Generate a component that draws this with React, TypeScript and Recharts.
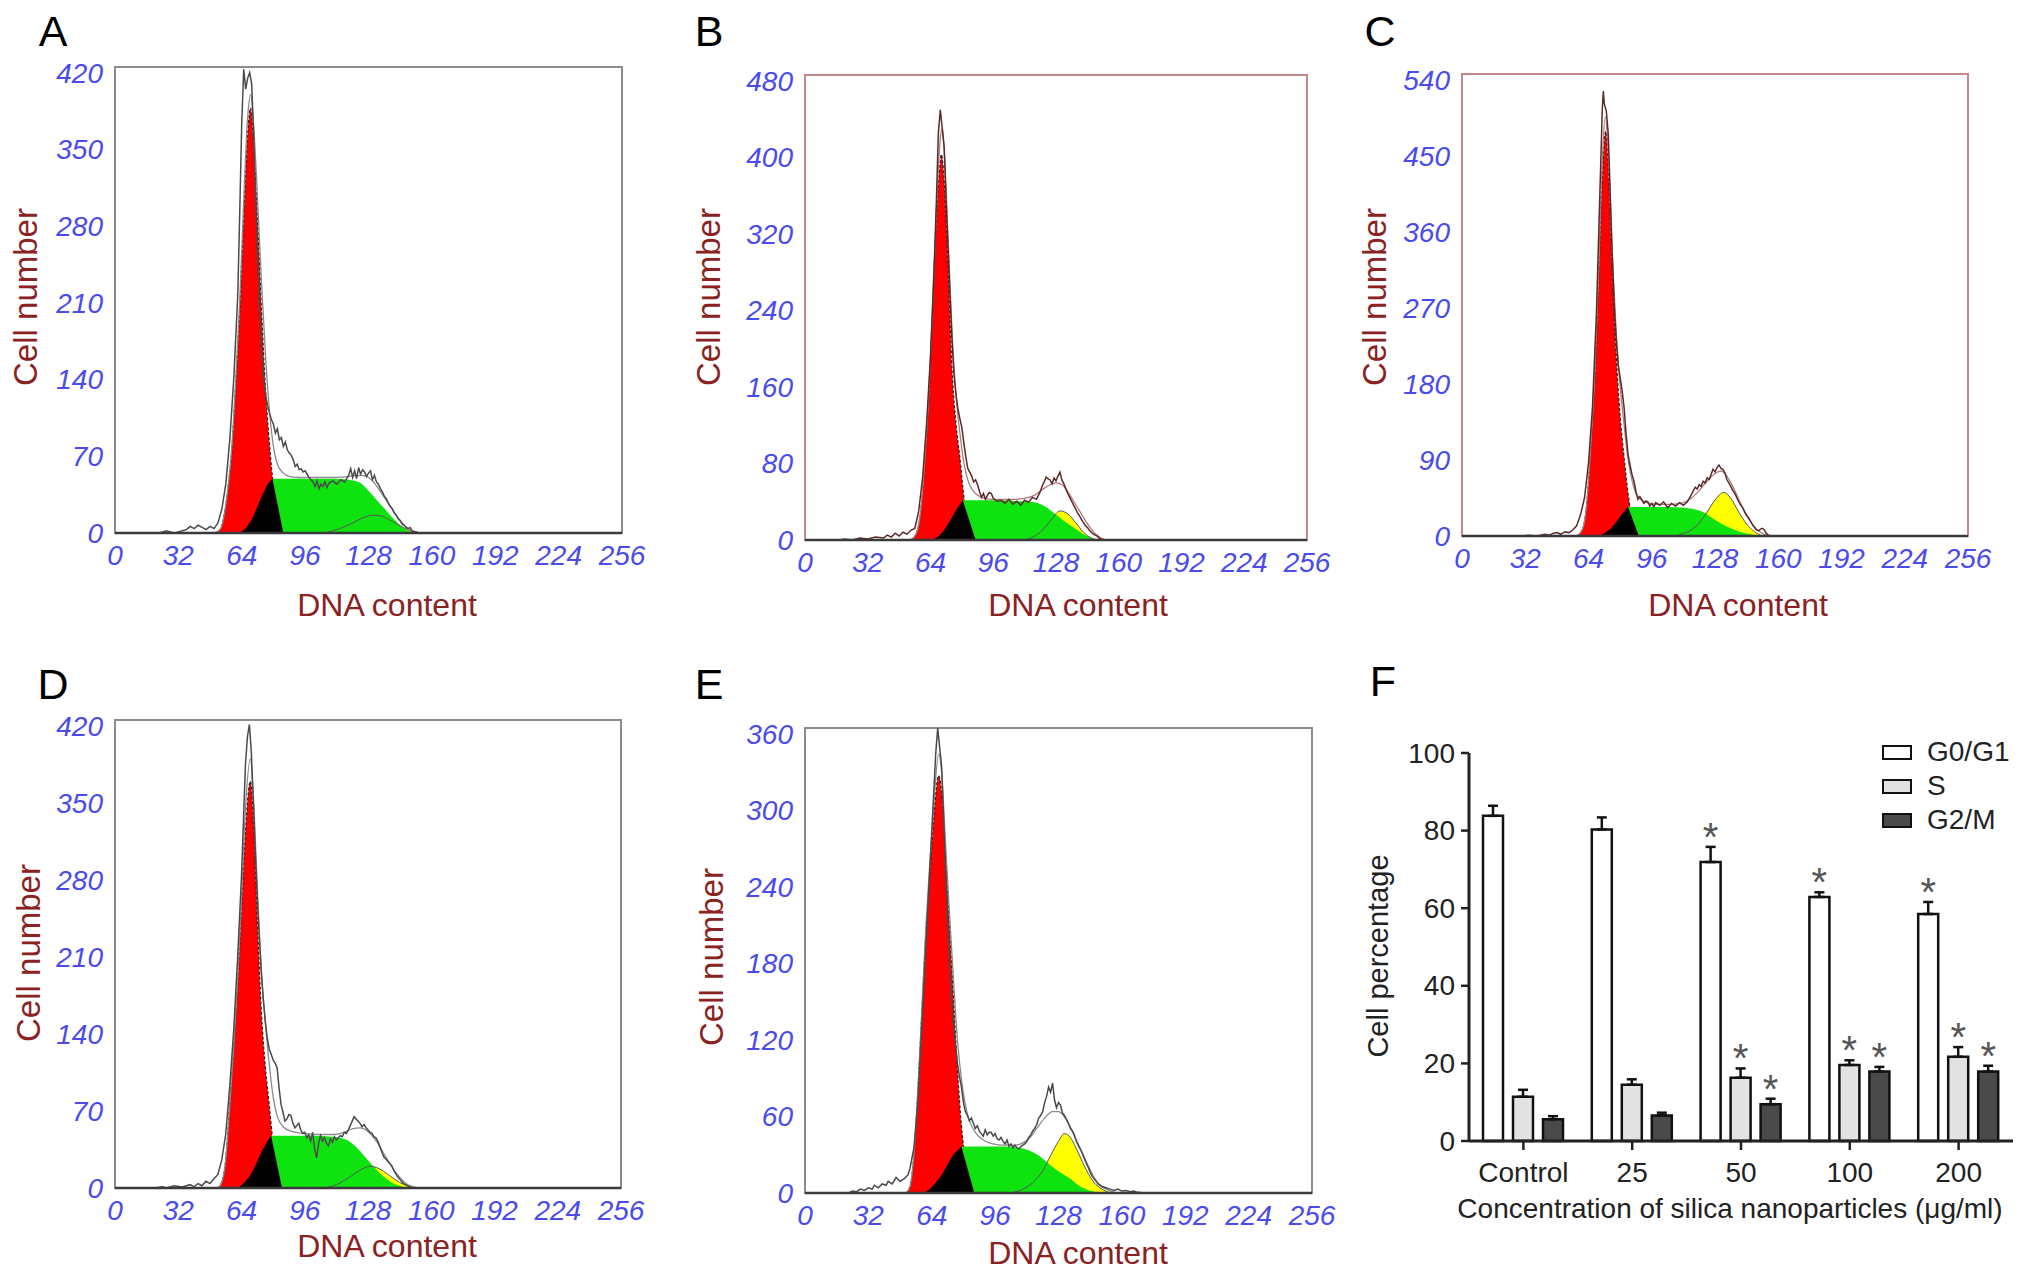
import React from 'react';
import {
  ComposedChart,
  Area,
  Line,
  XAxis,
  YAxis,
  ReferenceArea,
  BarChart,
  Bar,
  ErrorBar,
  LabelList,
} from 'recharts';

type Pt = [number, number];

// ---- shared ticks ----
const X_TICKS = [0, 32, 64, 96, 128, 160, 192, 224, 256];
const A_Y_TICKS = [0, 70, 140, 210, 280, 350, 420];
const B_Y_TICKS = [0, 80, 160, 240, 320, 400, 480];
const C_Y_TICKS = [0, 90, 180, 270, 360, 450, 540];
const D_Y_TICKS = [0, 70, 140, 210, 280, 350, 420];
const E_Y_TICKS = [0, 60, 120, 180, 240, 300, 360];

// ---- panel A ----
const A_RAW: Pt[] = [[0,0],[22,0],[24,1],[26,2],[28,1],[30,0],[32,1],[34,2],[36,3],[38,6],[40,4],[42,7],[44,5],[46,3],[48,6],[50,4],[52,9],[54,22],[56,45],[58,85],[60,140],[62,215],[63,290],[64,370],[65,418],[66,400],[67,410],[68,415],[69,405],[70,360],[71,300],[72,250],[73,200],[74,165],[75,140],[76,125],[77,115],[78,108],[79,102],[80,98],[81,90],[82,94],[83,84],[84,86],[85,78],[86,82],[87,75],[88,72],[89,70],[90,66],[91,60],[92,62],[93,57],[94,58],[95,55],[96,56],[98,50],[100,46],[101,42],[102,47],[103,40],[104,44],[105,42],[106,46],[107,41],[108,45],[110,47],[112,44],[114,48],[116,46],[118,52],[119,58],[120,50],[121,56],[122,49],[123,59],[124,53],[125,57],[126,55],[127,51],[128,54],[129,56],[130,48],[131,52],[132,46],[133,44],[134,40],[135,37],[136,33],[137,31],[138,27],[139,24],[140,22],[141,18],[142,16],[143,13],[144,11],[145,8],[146,7],[147,5],[148,4],[149,5],[150,2],[152,1],[154,0],[256,0]];
const A_FIT: Pt[] = [[50,0],[53,3],[55,15],[57,40],[59,78],[61,140],[63,210],[65,300],[67,375],[68.5,395],[70,368],[72,300],[74,225],[76,160],[78,110],[80,78],[82,62],[85,54],[88,51],[92,50],[100,50],[110,50],[118,51],[124,52],[127,51],[130,47],[133,40],[136,32],[139,24],[142,16],[145,9],[148,4],[151,1],[154,0]];
const A_G1: Pt[] = [[50,0],[53,3],[55,15],[57,40],[59,75],[61,135],[63,200],[65,285],[67,360],[68.5,383],[70,350],[72,280],[74,200],[76,130],[78,80],[80,42],[82,18],[84,6],[86,0]];
const A_BLACK: Pt[] = [[63,0],[66,4],[69,12],[71,20],[74,33],[77,44],[79.5,49],[85,0]];
const A_S: Pt[] = [[79.5,49],[90,49],[100,49],[110,49],[118,48],[124,45],[128,38],[132,30],[136,22],[140,14],[144,7],[148,2],[151,0]];
const A_G2: Pt[] = [[106,0],[110,2],[115,5],[120,9],[125,13.5],[130,16],[134,15.5],[138,12.5],[142,8.5],[146,4.5],[150,1.5],[154,0]];

// ---- panel B ----
const B_RAW: Pt[] = [[0,0],[18,0],[20,1],[24,0],[28,2],[32,1],[36,3],[40,2],[42,5],[44,3],[46,7],[48,4],[50,8],[52,6],[54,10],[56,12],[58,30],[60,65],[62,120],[64,190],[66,290],[67,350],[68,420],[69,444],[70,425],[71,405],[72,350],[73,300],[74,250],[75,205],[76,170],[77,150],[78,135],[79,125],[80,116],[81,100],[82,86],[83,74],[84,70],[85,66],[86,60],[87,62],[88,57],[89,50],[90,44],[91,48],[92,42],[93,46],[94,49],[95,48],[96,43],[98,40],[100,41],[102,38],[104,42],[106,37],[108,40],[110,36],[112,41],[114,39],[116,44],[118,42],[119,46],[120,50],[121,56],[122,60],[123,65],[124,63],[125,62],[126,58],[127,64],[128,61],[129,66],[130,70],[131,62],[132,58],[133,53],[134,48],[135,44],[136,40],[137,36],[138,32],[139,28],[140,25],[141,21],[142,18],[143,15],[144,13],[145,10],[146,8],[147,6],[148,5],[149,4],[150,2],[152,0],[256,0]];
const B_FIT: Pt[] = [[54,0],[57,8],[59,30],[61,80],[63,145],[65,235],[67,340],[69,415],[70,425],[71,400],[73,310],[75,215],[77,150],[79,110],[81,80],[83,62],[86,50],[90,44],[95,42],[100,42],[106,42],[112,43],[117,46],[121,52],[125,57],[128,59],[131,57],[134,50],[137,40],[140,30],[143,20],[146,11],[149,5],[152,1],[155,0]];
const B_G1: Pt[] = [[54,0],[57,8],[59,30],[61,80],[63,140],[65,230],[67,330],[69,390],[69.5,398],[71,370],[73,280],[75,175],[77,120],[79,85],[81,45],[83,20],[85,5],[87,0]];
const B_BLACK: Pt[] = [[65,0],[68,4],[71,10],[74,20],[77,31],[80.5,41],[87,0]];
const B_S: Pt[] = [[80.5,41],[90,41],[100,41],[110,40],[117,39],[122,35],[127,28],[132,20],[137,13],[142,6],[146,2],[149,0]];
const B_G2: Pt[] = [[112,0],[118,5],[122,12],[126,22],[130,30],[134,27],[138,18],[142,8],[146,2],[150,0]];

// ---- panel C ----
const C_RAW: Pt[] = [[0,0],[30,0],[34,1],[38,0],[42,2],[44,1],[46,3],[48,4],[50,2],[52,5],[54,4],[56,7],[58,12],[60,25],[62,45],[64,85],[66,150],[68,260],[70,420],[71,500],[71.5,520],[72,505],[73,497],[74,470],[75,400],[76,330],[77,270],[78,230],[79,200],[80,185],[81,170],[82,150],[83,120],[84,95],[85,83],[86,72],[87,64],[88,52],[89,43],[90,46],[91,42],[92,38],[93,41],[94,40],[95,35],[96,38],[97,34],[98,39],[100,36],[102,40],[104,33],[106,38],[108,35],[110,39],[112,36],[114,40],[116,48],[118,57],[119,55],[120,60],[121,58],[122,64],[123,62],[124,68],[125,66],[126,72],[127,78],[128,75],[129,80],[130,83],[131,79],[132,78],[133,74],[134,66],[135,62],[136,58],[137,53],[138,50],[139,45],[140,40],[141,36],[142,33],[143,28],[144,24],[145,21],[146,17],[147,13],[148,10],[149,7],[150,6],[151,8],[152,9],[153,7],[154,3],[155,1],[157,0],[256,0]];
const C_FIT: Pt[] = [[58,0],[61,8],[63,35],[65,100],[67,180],[69,300],[71,440],[72.5,490],[74,450],[76,330],[78,240],[80,175],[82,130],[84,90],[86,65],[88,50],[91,42],[95,38],[100,37],[106,37],[112,39],[116,44],[120,53],[124,64],[128,73],[131,76],[134,70],[137,58],[140,43],[143,29],[146,17],[149,8],[152,3],[155,0]];
const C_G1: Pt[] = [[58,0],[61,8],[63,35],[65,100],[67,175],[69,290],[71,420],[72.7,473],[74,430],[76,310],[78,210],[80,140],[82,92],[84,50],[86,22],[88,8],[90.5,0]];
const C_BLACK: Pt[] = [[69,0],[72,3],[75,8],[78,16],[81,26],[84,34],[89.5,0]];
const C_S: Pt[] = [[84,34],[95,34],[105,34],[112,33],[118,31],[122,28],[126,22],[130,16],[134,11],[138,7],[142,4],[146,2],[150,0]];
const C_G2: Pt[] = [[108,0],[112,3],[116,7],[120,15],[124,28],[128,42],[132.5,51],[136,44],[140,28],[144,14],[148,5],[152,0]];

// ---- panel D ----
const D_RAW: Pt[] = [[0,0],[20,0],[24,1],[26,0],[30,2],[34,1],[38,3],[40,1],[42,4],[44,2],[46,6],[48,4],[50,8],[52,12],[54,25],[56,48],[58,90],[60,140],[62,205],[64,280],[65,330],[66,380],[67,405],[68,416],[69,390],[70,345],[71,300],[72,260],[73,225],[74,195],[75,170],[76,150],[77,135],[78,125],[79,120],[80,115],[81,112],[82,108],[83,90],[84,75],[85,68],[86,60],[87,62],[88,66],[89,65],[90,58],[91,54],[92,56],[93,58],[94,52],[95,49],[96,50],[97,45],[98,48],[99,42],[100,50],[101,35],[102,27],[103,40],[104,47],[105,42],[106,45],[107,40],[108,38],[109,44],[110,41],[111,46],[112,43],[113,45],[114,47],[115,46],[116,50],[117,49],[118,52],[119,56],[120,60],[121,64],[122,62],[123,60],[124,58],[125,55],[126,57],[127,54],[128,52],[129,50],[130,49],[131,46],[132,45],[133,42],[134,37],[135,32],[136,28],[137,26],[138,24],[139,22],[140,20],[141,16],[142,13],[143,10],[144,8],[145,6],[146,4],[147,3],[149,1],[151,0],[256,0]];
const D_FIT: Pt[] = [[52,0],[54,5],[56,25],[58,72],[60,125],[62,185],[64,260],[66,340],[68.5,385],[70,352],[72,270],[74,195],[76,150],[78,112],[80,82],[82,65],[85,55],[89,51],[95,49],[102,48],[110,48],[116,50],[120,53],[124,54],[127,52],[130,47],[133,40],[136,31],[139,22],[142,14],[145,8],[148,3],[151,1],[154,0]];
const D_G1: Pt[] = [[52,0],[54,5],[56,25],[58,75],[60,125],[62,180],[64,250],[66,320],[68.5,365],[70,330],[72,240],[74,160],[76,110],[78,75],[80,40],[82,16],[84,4],[85,0]];
const D_BLACK: Pt[] = [[62,0],[65,4],[68,10],[71,20],[74,32],[77,42],[79,47],[84.5,0]];
const D_S: Pt[] = [[79,47],[90,47],[100,47],[110,46],[116,44],[120,40],[124,33],[128,25],[132,17],[136,10],[140,5],[144,2],[148,0]];
const D_G2: Pt[] = [[106,0],[112,3],[118,9],[124,16],[129,19.5],[134,17],[139,11],[144,5],[148,2],[152,0]];

// ---- panel E ----
const E_RAW: Pt[] = [[0,0],[22,0],[24,1.5],[26,1],[28,3],[30,2],[32,4],[34,3],[35,6],[37,4],[39,7],[41,6],[42,9],[44,7],[46,12],[48,9],[50,11],[52,14],[53,19],[55,35],[57,70],[59,130],[61,190],[63,250],[65,310],[66,340],[67,360],[68,345],[69,330],[70,290],[71,250],[72,210],[73,175],[74,150],[75,130],[76,115],[77,100],[78,90],[79,82],[80,70],[81,63],[82,60],[83,56],[84,58],[85,54],[86,50],[87,52],[88,48],[89,46],[90,44],[91,49],[92,45],[93,47],[94,47],[95,44],[96,46],[97,42],[98,41],[99,43],[100,40],[101,38],[102,41],[103,36],[104,38],[105,35],[106,37],[107,35],[108,34],[109,36],[110,37],[111,38],[112,40],[113,43],[114,45],[115,48],[116,50],[117,53],[118,58],[119,60],[120,63],[121,70],[122,75],[123,82],[124,78],[125,85],[126,72],[127,66],[128,70],[129,68],[130,62],[131,60],[132,57],[133,54],[134,50],[135,48],[136,45],[137,40],[138,37],[139,34],[140,31],[141,27],[142,23],[143,20],[144,16],[145,13],[146,11],[147,9],[148,7],[149,6],[150,5],[152,4],[154,3],[156,2],[158,3],[160,1.5],[162,2],[164,1],[166,1.5],[168,0.5],[172,0],[256,0]];
const E_FIT: Pt[] = [[51,0],[53,5],[55,30],[57,80],[59,142],[61,205],[63,255],[65,300],[67.5,340],[69,325],[71,270],[73,215],[75,165],[77,118],[79,88],[81,68],[83,56],[86,47],[90,41],[95,38],[100,37],[105,37],[109,38],[113,42],[117,50],[121,58],[125,63],[128,63],[131,59],[134,51],[137,41],[140,31],[143,21],[146,12],[149,6],[152,3],[155,1],[158,0]];
const E_G1: Pt[] = [[51,0],[53,5],[55,30],[57,80],[59,140],[61,200],[63,245],[65,290],[67.5,323],[69,310],[71,260],[73,205],[75,150],[77,95],[79,52],[81,25],[83,8],[85,0]];
const E_BLACK: Pt[] = [[60,0],[63,3],[66,8],[69,14],[72,22],[75,30],[79,36],[85.5,0]];
const E_S: Pt[] = [[79,36],[90,36],[100,36],[108,35],[113,33],[118,29],[122,24],[126,19],[130,15],[134,11],[138,6],[142,3],[146,1],[150,0]];
const E_G2: Pt[] = [[104,0],[110,3],[115,8],[120,17],[124,29],[128,40],[131,46],[134,43],[138,31],[142,18],[146,8],[150,3],[154,0]];

// ---- panel F ----
const F_CATEGORIES = ['Control', '25', '50', '100', '200'];
const F_G0G1 = [83.8, 80.3, 71.9, 62.9, 58.5];
const F_G0G1_ERR = [2.6, 3.1, 3.9, 1.2, 3.1];
const F_S = [11.4, 14.5, 16.3, 19.6, 21.7];
const F_S_ERR = [1.8, 1.4, 2.4, 1.2, 2.5];
const F_G2M = [5.6, 6.6, 9.5, 17.9, 17.9];
const F_G2M_ERR = [0.8, 0.7, 1.4, 1.2, 1.5];
const F_SIG = [false, false, true, true, true];
const F_Y_TICKS = [0, 20, 40, 60, 80, 100];

const FONT = '"Liberation Sans", Arial, Helvetica, sans-serif';
const TICK_BLUE = '#4a4aee';
const TITLE_RED = '#8a2222';

const rows = (pts: Pt[]) => pts.map(([x, y]) => ({ x, y }));

const xTick = (props: any) => (
  <text
    x={props.x}
    y={Number(props.y) + 22}
    textAnchor="middle"
    dominantBaseline="central"
    fontFamily={FONT}
    fontStyle="italic"
    fontSize={28}
    fill={TICK_BLUE}
  >
    {props.payload.value}
  </text>
);

// labels sit a little lower near the top of the frame, as in the original export
const makeYTick = (yMax: number) => (props: any) => (
  <text
    x={props.x}
    y={Number(props.y) + 6 * (props.payload.value / yMax)}
    textAnchor="end"
    dominantBaseline="central"
    fontFamily={FONT}
    fontStyle="italic"
    fontSize={28}
    fill={TICK_BLUE}
  >
    {props.payload.value}
  </text>
);

interface HistProps {
  left: number;
  top: number;
  w: number;
  h: number;
  margin: { left: number; right: number; top: number; bottom: number };
  yMax: number;
  yTicks: number[];
  raw: Pt[];
  fit: Pt[];
  g1: Pt[];
  black: Pt[];
  s: Pt[];
  g2: Pt[];
  frame: string;
  rawColor: string;
  fitColor: string;
}

// y axis is 60 wide and x axis is 40 high; margins below are what is left over
function Histogram(p: HistProps) {
  return (
    <div style={{ position: 'absolute', left: p.left, top: p.top, width: p.w, height: p.h }}>
      <ComposedChart width={p.w} height={p.h} margin={p.margin}>
        <XAxis
          type="number"
          dataKey="x"
          domain={[0, 256]}
          ticks={X_TICKS}
          interval={0}
          allowDataOverflow
          height={40}
          tickSize={0}
          tickMargin={0}
          tickLine={false}
          axisLine={{ stroke: '#3a3a3a', strokeWidth: 2.5 }}
          tick={xTick}
        />
        <YAxis
          type="number"
          domain={[0, p.yMax]}
          ticks={p.yTicks}
          interval={0}
          allowDataOverflow
          width={60}
          tickSize={0}
          tickMargin={12}
          tickLine={false}
          axisLine={false}
          tick={makeYTick(p.yMax)}
        />
        <ReferenceArea x1={0} x2={256} y1={0} y2={p.yMax} fill="none" stroke={p.frame} strokeWidth={2} ifOverflow="visible" />
        <Area data={rows(p.g1)} dataKey="y" type="monotone" baseValue={0} fill="#ff0000" fillOpacity={1} stroke="#222" strokeWidth={1.2} strokeDasharray="3 2" isAnimationActive={false} />
        <Area data={rows(p.g2)} dataKey="y" type="monotone" baseValue={0} fill="#ffff00" fillOpacity={1} stroke="none" isAnimationActive={false} />
        <Area data={rows(p.s)} dataKey="y" type="monotone" baseValue={0} fill="#0fe30f" fillOpacity={1} stroke="none" isAnimationActive={false} />
        <Area data={rows(p.black)} dataKey="y" type="linear" baseValue={0} fill="#000000" fillOpacity={1} stroke="none" isAnimationActive={false} />
        <Line data={rows(p.g2)} dataKey="y" type="monotone" stroke="#555" strokeWidth={1} dot={false} isAnimationActive={false} />
        <Line data={rows(p.fit)} dataKey="y" type="monotone" stroke={p.fitColor} strokeWidth={1.3} dot={false} isAnimationActive={false} />
        <Line data={rows(p.raw)} dataKey="y" type="linear" stroke={p.rawColor} strokeWidth={1.5} dot={false} isAnimationActive={false} />
      </ComposedChart>
    </div>
  );
}

function Txt({ x, y, size, color, rot, children }: any) {
  return (
    <div
      style={{
        position: 'absolute',
        left: x,
        top: y,
        transform: `translate(-50%, -50%)${rot ? ' rotate(-90deg)' : ''}`,
        fontFamily: FONT,
        fontSize: size,
        color,
        lineHeight: 1,
        whiteSpace: 'nowrap',
      }}
    >
      {children}
    </div>
  );
}

const starLabel = (vals: number[], errs: number[]) => (props: any) => {
  const { index } = props;
  if (!F_SIG[index]) return null;
  const x = Number(props.x);
  const y = Number(props.y);
  const w = Number(props.width);
  const h = Number(props.height);
  const top = y - (errs[index] * h) / vals[index];
  return (
    <text x={x + w / 2} y={top + 4} textAnchor="middle" fontFamily={FONT} fontSize={40} fill="#555">
      *
    </text>
  );
};

function PanelF() {
  const data = F_CATEGORIES.map((name, i) => ({
    name,
    g1: F_G0G1[i],
    g1Err: [0, F_G0G1_ERR[i]],
    s: F_S[i],
    sErr: [0, F_S_ERR[i]],
    g2m: F_G2M[i],
    g2mErr: [0, F_G2M_ERR[i]],
  }));
  const fTickX = (props: any) => (
    <text x={props.x} y={Number(props.y) + 22} textAnchor="middle" dominantBaseline="central" fontFamily={FONT} fontSize={28} fill="#222">
      {props.payload.value}
    </text>
  );
  const fTickY = (props: any) => (
    <text x={props.x} y={props.y} textAnchor="end" dominantBaseline="central" fontFamily={FONT} fontSize={28} fill="#222">
      {props.payload.value}
    </text>
  );
  const legend = [
    { label: 'G0/G1', fill: '#ffffff' },
    { label: 'S', fill: '#e2e2e2' },
    { label: 'G2/M', fill: '#4a4a4a' },
  ];
  return (
    <>
      <div style={{ position: 'absolute', left: 1340, top: 640, width: 692, height: 638 }}>
        <BarChart width={692} height={638} data={data} margin={{ left: 69, right: 19, top: 113, bottom: 97 }} barSize={20} barGap={10}>
          <XAxis
            dataKey="name"
            height={40}
            tickSize={9}
            tickMargin={0}
            axisLine={{ stroke: '#222', strokeWidth: 3 }}
            tickLine={{ stroke: '#222', strokeWidth: 2.5 }}
            tick={fTickX}
            interval={0}
          />
          <YAxis
            type="number"
            domain={[0, 100]}
            ticks={F_Y_TICKS}
            interval={0}
            width={60}
            tickSize={8}
            tickMargin={6}
            axisLine={{ stroke: '#222', strokeWidth: 3 }}
            tickLine={{ stroke: '#222', strokeWidth: 2.5 }}
            tick={fTickY}
          />
          <Bar dataKey="g1" fill="#ffffff" stroke="#111" strokeWidth={2.5} isAnimationActive={false}>
            <ErrorBar dataKey="g1Err" direction="y" width={5} stroke="#111" strokeWidth={2.5} />
            <LabelList dataKey="g1" content={starLabel(F_G0G1, F_G0G1_ERR)} />
          </Bar>
          <Bar dataKey="s" fill="#e2e2e2" stroke="#111" strokeWidth={2.5} isAnimationActive={false}>
            <ErrorBar dataKey="sErr" direction="y" width={5} stroke="#111" strokeWidth={2.5} />
            <LabelList dataKey="s" content={starLabel(F_S, F_S_ERR)} />
          </Bar>
          <Bar dataKey="g2m" fill="#4a4a4a" stroke="#111" strokeWidth={2.5} isAnimationActive={false}>
            <ErrorBar dataKey="g2mErr" direction="y" width={5} stroke="#111" strokeWidth={2.5} />
            <LabelList dataKey="g2m" content={starLabel(F_G2M, F_G2M_ERR)} />
          </Bar>
        </BarChart>
      </div>
      {legend.map((l, i) => (
        <div key={l.label} style={{ position: 'absolute', left: 1882, top: 737 + i * 34, height: 30, display: 'flex', alignItems: 'center' }}>
          <div style={{ width: 26, height: 11, border: '2.5px solid #111', background: l.fill }} />
          <span style={{ marginLeft: 15, fontFamily: FONT, fontSize: 28, color: '#222', lineHeight: 1 }}>{l.label}</span>
        </div>
      ))}
      <Txt x={1378} y={956} size={29} color="#222" rot>
        Cell percentage
      </Txt>
      <Txt x={1730} y={1209} size={28} color="#222">
        Concentration of silica nanoparticles (μg/ml)
      </Txt>
    </>
  );
}

export default function App() {
  const grayFrame = '#8c8c8c';
  const redFrame = '#c28a8a';
  return (
    <div style={{ position: 'absolute', left: 0, top: 0, width: 2032, height: 1278, background: '#fff', overflow: 'hidden' }}>
      <Histogram left={0} top={0} w={680} h={640} margin={{ left: 55, right: 58, top: 67, bottom: 67 }} yMax={420} yTicks={A_Y_TICKS}
        raw={A_RAW} fit={A_FIT} g1={A_G1} black={A_BLACK} s={A_S} g2={A_G2} frame={grayFrame} rawColor="#4a4a4a" fitColor="#8a8a8a" />
      <Histogram left={680} top={0} w={680} h={640} margin={{ left: 65, right: 53, top: 75, bottom: 60 }} yMax={480} yTicks={B_Y_TICKS}
        raw={B_RAW} fit={B_FIT} g1={B_G1} black={B_BLACK} s={B_S} g2={B_G2} frame={redFrame} rawColor="#5a2a2a" fitColor="#b07a7a" />
      <Histogram left={1340} top={0} w={692} h={640} margin={{ left: 62, right: 64, top: 74, bottom: 64 }} yMax={540} yTicks={C_Y_TICKS}
        raw={C_RAW} fit={C_FIT} g1={C_G1} black={C_BLACK} s={C_S} g2={C_G2} frame={redFrame} rawColor="#5a2a2a" fitColor="#b07a7a" />
      <Histogram left={0} top={640} w={680} h={638} margin={{ left: 55, right: 59, top: 80, bottom: 50 }} yMax={420} yTicks={D_Y_TICKS}
        raw={D_RAW} fit={D_FIT} g1={D_G1} black={D_BLACK} s={D_S} g2={D_G2} frame={grayFrame} rawColor="#4a4a4a" fitColor="#8a8a8a" />
      <Histogram left={680} top={640} w={680} h={638} margin={{ left: 65, right: 48, top: 88, bottom: 45 }} yMax={360} yTicks={E_Y_TICKS}
        raw={E_RAW} fit={E_FIT} g1={E_G1} black={E_BLACK} s={E_S} g2={E_G2} frame={grayFrame} rawColor="#4a4a4a" fitColor="#8a8a8a" />
      <PanelF />

      <Txt x={53} y={31} size={43} color="#000">A</Txt>
      <Txt x={709} y={31} size={43} color="#000">B</Txt>
      <Txt x={1380} y={31} size={43} color="#000">C</Txt>
      <Txt x={53} y={684} size={43} color="#000">D</Txt>
      <Txt x={709} y={684} size={43} color="#000">E</Txt>
      <Txt x={1383} y={681} size={43} color="#000">F</Txt>

      <Txt x={25} y={297} size={33} color={TITLE_RED} rot>Cell number</Txt>
      <Txt x={708} y={297} size={33} color={TITLE_RED} rot>Cell number</Txt>
      <Txt x={1374} y={297} size={33} color={TITLE_RED} rot>Cell number</Txt>
      <Txt x={28} y={953} size={33} color={TITLE_RED} rot>Cell number</Txt>
      <Txt x={711} y={957} size={33} color={TITLE_RED} rot>Cell number</Txt>

      <Txt x={387} y={605} size={32} color={TITLE_RED}>DNA content</Txt>
      <Txt x={1078} y={605} size={32} color={TITLE_RED}>DNA content</Txt>
      <Txt x={1738} y={605} size={32} color={TITLE_RED}>DNA content</Txt>
      <Txt x={387} y={1246} size={32} color={TITLE_RED}>DNA content</Txt>
      <Txt x={1078} y={1253} size={32} color={TITLE_RED}>DNA content</Txt>
    </div>
  );
}
